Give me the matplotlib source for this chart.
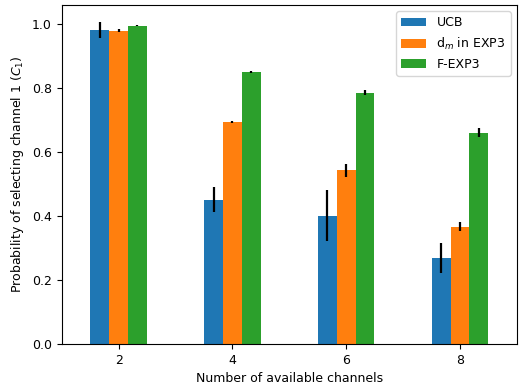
import matplotlib
matplotlib.use('Agg')
import matplotlib.pyplot as plt
import numpy as np

channels = [2, 4, 6, 8]
ucb = [0.983, 0.452, 0.402, 0.270]
ucb_err = [0.025, 0.040, 0.080, 0.047]
dm_exp3 = [0.980, 0.695, 0.544, 0.367]
dm_exp3_err = [0.005, 0.003, 0.020, 0.014]
fexp3 = [0.996, 0.851, 0.786, 0.661]
fexp3_err = [0.003, 0.003, 0.008, 0.015]

plt.rcParams['font.size'] = 9

fig = plt.figure(figsize=(5.19, 3.88), dpi=100)
ax = fig.add_axes([0.119, 0.113, 0.877, 0.874])

x = np.array(channels)
w = 0.33
ekw = dict(elinewidth=1.6, ecolor='black')
ax.bar(x - w, ucb, w, yerr=ucb_err, color='#1f77b4', label='UCB', error_kw=ekw)
ax.bar(x, dm_exp3, w, yerr=dm_exp3_err, color='#ff7f0e', label='d$_m$ in EXP3', error_kw=ekw)
ax.bar(x + w, fexp3, w, yerr=fexp3_err, color='#2ca02c', label='F-EXP3', error_kw=ekw)

ax.set_xlim(1, 9)
ax.set_ylim(0, 1.06)
ax.set_xticks(channels)
ax.set_xlabel('Number of available channels')
ax.set_ylabel('Probability of selecting channel 1 ($C_1$)')
ax.legend(loc='upper right')

fig.savefig('out.png', dpi=100)
